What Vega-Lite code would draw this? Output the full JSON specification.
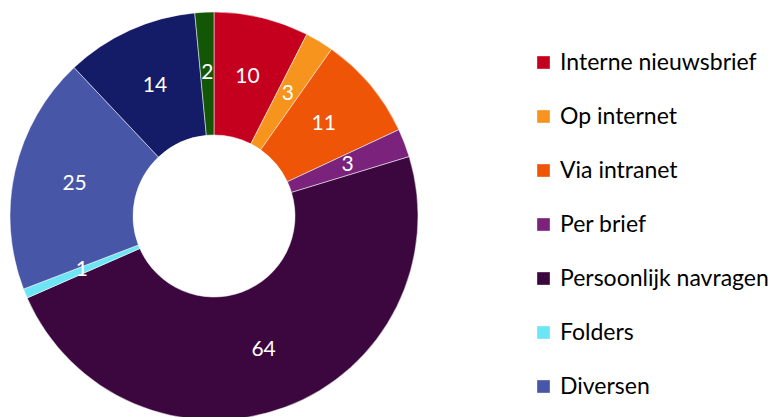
{
  "$schema": "https://vega.github.io/schema/vega-lite/v6.json",
  "width": 428,
  "height": 432,
  "padding": {"left": 0, "top": 0, "right": 341, "bottom": 0},
  "autosize": {"type": "none"},
  "background": "white",
  "data": {
    "values": [
      {"bron": "Interne nieuwsbrief", "aantal": 10, "volgorde": 1},
      {"bron": "Op internet", "aantal": 3, "volgorde": 2},
      {"bron": "Via intranet", "aantal": 11, "volgorde": 3},
      {"bron": "Per brief", "aantal": 3, "volgorde": 4},
      {"bron": "Persoonlijk navragen", "aantal": 64, "volgorde": 5},
      {"bron": "Folders", "aantal": 1, "volgorde": 6},
      {"bron": "Diversen", "aantal": 25, "volgorde": 7},
      {"bron": "Collega's", "aantal": 14, "volgorde": 8},
      {"bron": "Anders", "aantal": 2, "volgorde": 9}
    ]
  },
  "encoding": {
    "theta": {"field": "aantal", "type": "quantitative", "stack": true},
    "order": {"field": "volgorde", "type": "quantitative"},
    "color": {
      "field": "bron",
      "type": "nominal",
      "sort": ["Interne nieuwsbrief", "Op internet", "Via intranet", "Per brief", "Persoonlijk navragen", "Folders", "Diversen", "Collega's", "Anders"],
      "scale": {
        "domain": ["Interne nieuwsbrief", "Op internet", "Via intranet", "Per brief", "Persoonlijk navragen", "Folders", "Diversen", "Collega's", "Anders"],
        "range": ["#C4001E", "#F7941D", "#EF5507", "#7B237C", "#3C063F", "#6CE6F4", "#4756A6", "#141C68", "#135706"]
      },
      "legend": {
        "values": ["Interne nieuwsbrief", "Op internet", "Via intranet", "Per brief", "Persoonlijk navragen", "Folders", "Diversen"],
        "title": null,
        "orient": "none",
        "legendX": 532,
        "legendY": 51,
        "symbolType": "square",
        "symbolSize": 160,
        "symbolStrokeWidth": 0,
        "symbolOpacity": 1,
        "labelFont": "Lato",
        "labelFontSize": 23,
        "labelColor": "#000000",
        "labelOffset": 5,
        "rowPadding": 30,
        "labelLimit": 300
      }
    }
  },
  "layer": [
    {
      "mark": {"type": "arc", "outerRadius": 204, "innerRadius": 81, "stroke": "white", "strokeWidth": 0.5}
    },
    {
      "mark": {"type": "text", "radius": 143, "font": "Lato", "fontSize": 21, "fill": "white"},
      "encoding": {
        "text": {"field": "aantal", "type": "quantitative"},
        "color": {"value": "white"}
      }
    }
  ],
  "view": {"stroke": null}
}
